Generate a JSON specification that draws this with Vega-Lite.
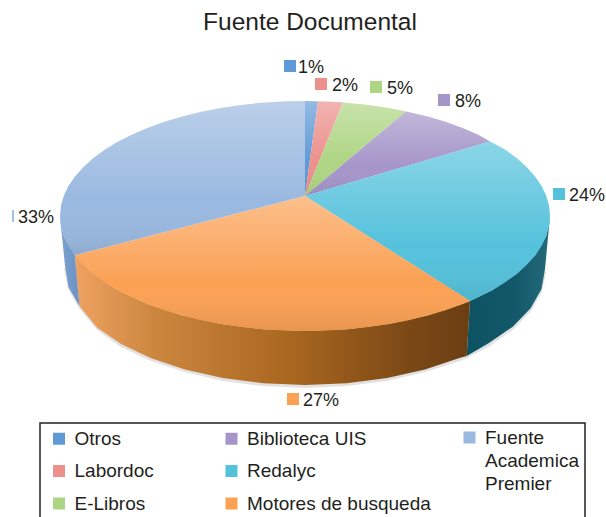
{"$schema":"https://vega.github.io/schema/vega-lite/v6.json","width":606,"height":517,"padding":0,"autosize":{"type":"none"},"background":"white","config":{"view":{"stroke":null},"font":"Liberation Sans","style":{"guide-label":{"lineHeight":23}}},"title":{"text":"Fuente Documental","fontSize":24.5,"fontWeight":"normal","font":"Liberation Sans","color":"#231f20","anchor":"middle","offset":0,"dy":54,"dx":7,"baseline":"alphabetic"},"projection":{"type":"identity","reflectY":true,"scale":1,"translate":[305,216]},"resolve":{"scale":{"color":"independent"},"legend":{"color":"independent"}},"layer":[
{"data":{"values":[{"type":"Feature","properties":{"part":"recuadro"},"geometry":{"type":"Polygon","coordinates":[[[-265,-207],[280,-207],[280,-330],[-265,-330],[-265,-207]]]}}]},"mark":{"type":"geoshape","fill":null,"filled":false,"stroke":"#222222","strokeWidth":1.5}},
{"data":{"values":[{"type":"Feature","properties":{"part":"sombra"},"geometry":{"type":"Polygon","coordinates":[[[241,-56],[237,-76],[226,-95],[209,-113],[185,-130],[162,-142],[155,-145],[120,-156],[82,-165],[42,-170],[0,-172],[-42,-170],[-82,-165],[-120,-156],[-154,-145],[-184,-131],[-208,-114],[-226,-92],[-237,-73],[-241,-52],[0,0],[241,-56]]]}}]},"mark":{"type":"geoshape","fill":"#a8a8a8","opacity":0.35,"strokeWidth":0}},
{"data":{"values":[{"type":"Feature","properties":{"name":"Redalyc"},"geometry":{"type":"Polygon","coordinates":[[[245,0],[241.3,-20],[230.2,-39.3],[212.2,-57.5],[187.7,-73.9],[165,-85],[161.7,-140],[183.9,-127],[208,-110.5],[225.6,-92.3],[236.5,-73],[240,-53],[245,0]]]}}]},"mark":{"type":"geoshape","strokeWidth":0,"fill":{"gradient":"linear","x1":0,"y1":0,"x2":1,"y2":0,"stops":[{"offset":0,"color":"#0c5262"},{"offset":0.6,"color":"#14596a"},{"offset":1,"color":"#246a7a"}]}}},
{"data":{"values":[{"type":"Feature","properties":{"name":"Motores de busqueda"},"geometry":{"type":"Polygon","coordinates":[[[165,-85],[157.5,-88.1],[122.5,-99.6],[83.8,-108.1],[42.5,-113.3],[0,-115],[-42.5,-113.3],[-83.8,-108.1],[-122.5,-99.6],[-157.5,-88.1],[-187.7,-73.9],[-212.2,-57.5],[-230.2,-39.3],[-225.6,-90],[-208,-111.5],[-183.9,-127.9],[-154.4,-142.1],[-120,-153.6],[-82.1,-162.1],[-41.7,-167.3],[0,-169],[41.7,-167.3],[82.1,-162.1],[120,-153.6],[154.4,-142.1],[161.7,-140],[165,-85]]]}}]},"mark":{"type":"geoshape","strokeWidth":0,"fill":{"gradient":"linear","x1":0,"y1":0,"x2":1,"y2":0,"stops":[{"offset":0,"color":"#efa262"},{"offset":0.2,"color":"#cc873f"},{"offset":0.55,"color":"#a9661f"},{"offset":0.85,"color":"#7a4815"},{"offset":1,"color":"#6b3e12"}]}}},
{"data":{"values":[{"type":"Feature","properties":{"name":"Fuente Academica Premier"},"geometry":{"type":"Polygon","coordinates":[[[-230.2,-39.3],[-241.3,-20],[-245,0],[-240,-50],[-236.5,-71],[-225.6,-90],[-230.2,-39.3]]]}}]},"mark":{"type":"geoshape","strokeWidth":0,"fill":{"gradient":"linear","x1":0,"y1":0,"x2":1,"y2":0,"stops":[{"offset":0,"color":"#7fa2cf"},{"offset":1,"color":"#6a92c3"}]}}},
{"data":{"name":"top","values":[
{"type":"Feature","properties":{"name":"Otros","share":1},"geometry":{"type":"Polygon","coordinates":[[[0,20],[0,115],[13,114.5],[0,20]]]}},
{"type":"Feature","properties":{"name":"Labordoc","share":2},"geometry":{"type":"Polygon","coordinates":[[[0,20],[13,114.5],[25,114.2],[38,113.5],[0,20]]]}},
{"type":"Feature","properties":{"name":"E-Libros","share":5},"geometry":{"type":"Polygon","coordinates":[[[0,20],[38,113.5],[63.4,111.1],[83.8,108.1],[101,104.5],[0,20]]]}},
{"type":"Feature","properties":{"name":"Biblioteca UIS","share":8},"geometry":{"type":"Polygon","coordinates":[[[0,20],[101,104.5],[122.5,99.6],[140.5,94.2],[157.5,88.1],[173.2,81.3],[185,74.5],[0,20]]]}},
{"type":"Feature","properties":{"name":"Redalyc","share":24},"geometry":{"type":"Polygon","coordinates":[[[0,20],[185,74.5],[200.7,66],[212.2,57.5],[222,48.6],[230.2,39.3],[236.7,29.8],[241.3,20],[244.1,10],[245,0],[244.1,-10],[241.3,-20],[236.7,-29.8],[230.2,-39.3],[222,-48.6],[212.2,-57.5],[200.7,-66],[187.7,-73.9],[165,-85],[0,20]]]}},
{"type":"Feature","properties":{"name":"Motores de busqueda","share":27},"geometry":{"type":"Polygon","coordinates":[[[0,20],[165,-85],[157.5,-88.1],[140.5,-94.2],[122.5,-99.6],[103.5,-104.2],[83.8,-108.1],[63.4,-111.1],[42.5,-113.3],[21.4,-114.6],[0,-115],[-21.4,-114.6],[-42.5,-113.3],[-63.4,-111.1],[-83.8,-108.1],[-103.5,-104.2],[-122.5,-99.6],[-140.5,-94.2],[-157.5,-88.1],[-173.2,-81.3],[-187.7,-73.9],[-200.7,-66],[-212.2,-57.5],[-222,-48.6],[-230.2,-39.3],[0,20]]]}},
{"type":"Feature","properties":{"name":"Fuente Academica Premier","share":33},"geometry":{"type":"Polygon","coordinates":[[[0,20],[-230.2,-39.3],[-236.7,-29.8],[-241.3,-20],[-244.1,-10],[-245,0],[-244.1,10],[-241.3,20],[-236.7,29.8],[-230.2,39.3],[-222,48.6],[-212.2,57.5],[-200.7,66],[-187.7,73.9],[-173.2,81.3],[-157.5,88.1],[-140.5,94.2],[-122.5,99.6],[-103.5,104.2],[-83.8,108.1],[-63.4,111.1],[-42.5,113.3],[-21.4,114.6],[0,115],[0,20]]]}}
]},"transform":[{"filter":"datum.properties.name!='Fuente Academica Premier'"}],"mark":{"type":"geoshape","strokeWidth":0},"encoding":{"color":{"field":"properties.name","type":"nominal","scale":{"domain":["Otros","Labordoc","E-Libros","Biblioteca UIS","Redalyc","Motores de busqueda"],"range":["#5f9ad6","#ec908c","#aed583","#a595c9","#55c2dc","#fba154"]},"legend":{"title":null,"orient":"none","legendX":49.5,"legendY":429,"direction":"vertical","columns":2,"gridAlign":"each","padding":0,"symbolOffset":0,"symbolType":"square","symbolSize":144,"symbolOpacity":1,"symbolStrokeWidth":0,"labelFont":"Liberation Sans","labelFontSize":19,"labelColor":"#231f20","labelLimit":300,"labelOffset":6,"rowPadding":12.5,"columnPadding":67.5}}}},
{"data":{"name":"top"},"transform":[{"filter":"datum.properties.name=='Fuente Academica Premier'"}],"mark":{"type":"geoshape","strokeWidth":0},"encoding":{"color":{"field":"properties.name","type":"nominal","scale":{"domain":["Fuente Academica Premier"],"range":["#9ab9e0"]},"legend":{"title":null,"orient":"none","legendX":460,"legendY":428,"padding":0,"symbolOffset":0,"symbolType":"square","symbolSize":144,"symbolOpacity":1,"symbolStrokeWidth":0,"labelFont":"Liberation Sans","labelFontSize":19,"labelColor":"#231f20","labelLimit":300,"labelOffset":6,"labelExpr":"['Fuente','Academica','Premier']"}}}},
{"data":{"name":"top"},"mark":{"type":"geoshape","strokeWidth":0,"fill":{"gradient":"linear","x1":0,"y1":0,"x2":0,"y2":1,"stops":[{"offset":0,"color":"rgba(255,255,255,0.32)"},{"offset":0.65,"color":"rgba(255,255,255,0)"},{"offset":1,"color":"rgba(0,0,0,0.08)"}]}}},
{"data":{"name":"labels","values":[
{"name":"Otros","label":"1%","symLon":-15,"txtLon":-7,"lat":150},
{"name":"Labordoc","label":"2%","symLon":16,"txtLon":27,"lat":132},
{"name":"E-Libros","label":"5%","symLon":71,"txtLon":82,"lat":129},
{"name":"Biblioteca UIS","label":"8%","symLon":139,"txtLon":150,"lat":116},
{"name":"Redalyc","label":"24%","symLon":254,"txtLon":264,"lat":22},
{"name":"Motores de busqueda","label":"27%","symLon":-12,"txtLon":-2,"lat":-183},
{"name":"Fuente Academica Premier","label":"33%","symLon":-292,"txtLon":-287,"lat":0}
]},"transform":[{"filter":"datum.label!='33%'"}],"mark":{"type":"point","shape":"square","filled":true,"size":144,"opacity":1,"strokeWidth":0},"encoding":{"longitude":{"field":"symLon","type":"quantitative"},"latitude":{"field":"lat","type":"quantitative"},"color":{"field":"name","type":"nominal","legend":null,"scale":{"domain":["Otros","Labordoc","E-Libros","Biblioteca UIS","Redalyc","Motores de busqueda","Fuente Academica Premier"],"range":["#5f9ad6","#ec908c","#aed583","#a595c9","#55c2dc","#fba154","#9ab9e0"]}}}},
{"data":{"name":"labels"},"transform":[{"filter":"datum.label=='33%'"}],"mark":{"type":"point","shape":"M-0.15,-1H0.15V1H-0.15Z","filled":true,"size":144,"opacity":1,"strokeWidth":0},"encoding":{"longitude":{"field":"symLon","type":"quantitative"},"latitude":{"field":"lat","type":"quantitative"},"color":{"field":"name","type":"nominal","legend":null,"scale":{"domain":["Fuente Academica Premier"],"range":["#9ab9e0"]}}}},
{"data":{"name":"labels"},"mark":{"type":"text","align":"left","baseline":"middle","dy":1.5,"fontSize":18,"font":"Liberation Sans","color":"#231f20"},"encoding":{"longitude":{"field":"txtLon","type":"quantitative"},"latitude":{"field":"lat","type":"quantitative"},"text":{"field":"label"}}}
]}
